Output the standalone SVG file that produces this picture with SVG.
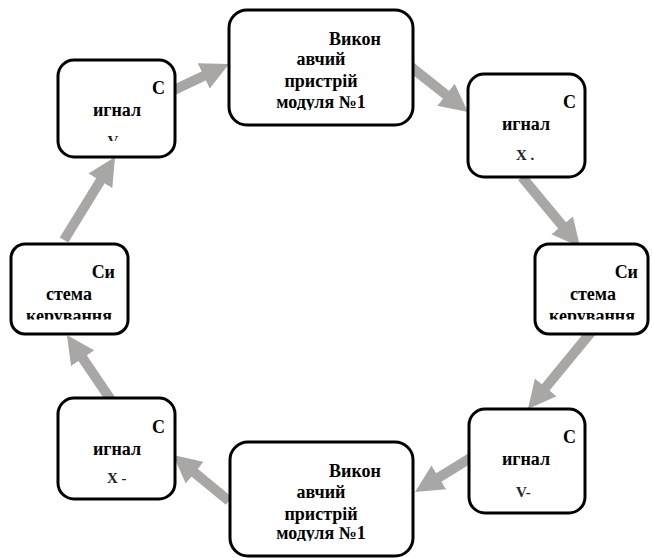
<svg xmlns="http://www.w3.org/2000/svg" width="653" height="558" viewBox="0 0 653 558">
<style>
.box{fill:#fff;stroke:#000;stroke-width:3}
text{font-family:"Liberation Serif","Times New Roman",serif;font-weight:bold}
.t{font-size:18px;fill:#000}
.s{font-size:15px;fill:#222}
.m{text-anchor:middle}
.e{text-anchor:end}
.arr{stroke:#a9a6a6;stroke-width:10;fill:none;marker-end:url(#head)}
</style>
<defs>
<marker id="head" markerUnits="userSpaceOnUse" markerWidth="28" markerHeight="28" viewBox="0 0 28 28" refX="1" refY="14" orient="auto">
<path d="M0,0 L28,14 L0,28 Z" fill="#a9a6a6"/>
</marker>
<clipPath id="c1"><rect x="0" y="0" width="653" height="141"/></clipPath>
<clipPath id="c2"><rect x="0" y="0" width="653" height="110"/></clipPath>
<clipPath id="c3"><rect x="0" y="0" width="653" height="319.5"/></clipPath>
<clipPath id="c4"><rect x="0" y="0" width="653" height="541"/></clipPath>
</defs>
<g id="connectors">
<line class="arr" x1="174" y1="90" x2="204.6" y2="75.5"/>
<line class="arr" x1="411" y1="67" x2="446.8" y2="95.3"/>
<line class="arr" x1="522" y1="177" x2="562.8" y2="226.2"/>
<line class="arr" x1="592" y1="331" x2="545.1" y2="388.1"/>
<line class="arr" x1="472" y1="457" x2="438" y2="477.9"/>
<line class="arr" x1="229" y1="501" x2="193.9" y2="472.1"/>
<line class="arr" x1="111" y1="400" x2="82.1" y2="357.4"/>
<line class="arr" x1="64" y1="240" x2="100.9" y2="180"/>
</g>
<g id="signal-v-top">
<rect class="box" x="58" y="60" width="117" height="97" rx="16"/>
<text class="t e" x="165" y="94">С</text>
<text class="t m" x="117" y="116">игнал</text>
<text class="s m" x="113" y="146" clip-path="url(#c1)">V</text>
</g>
<g id="actuator-top">
<rect class="box" x="229" y="10" width="184" height="115" rx="18"/>
<text class="t e" x="381" y="45">Викон</text>
<text class="t m" x="321" y="65">авчий</text>
<text class="t m" x="321" y="87">пристрій</text>
<text class="t m" x="321" y="108" clip-path="url(#c2)">модуля №1</text>
</g>
<g id="signal-x-top">
<rect class="box" x="468" y="74" width="117" height="103" rx="16"/>
<text class="t e" x="576" y="108">С</text>
<text class="t m" x="526" y="130">игнал</text>
<text class="s" x="516" y="160">X .</text>
</g>
<g id="control-left">
<rect class="box" x="11" y="244" width="117" height="90" rx="14"/>
<text class="t e" x="115" y="278">Си</text>
<text class="t m" x="69" y="300">стема</text>
<text class="t m" x="69" y="322" clip-path="url(#c3)">керування</text>
</g>
<g id="control-right">
<rect class="box" x="535" y="244" width="113" height="90" rx="14"/>
<text class="t e" x="638" y="278">Си</text>
<text class="t m" x="593" y="300">стема</text>
<text class="t m" x="592" y="322" clip-path="url(#c3)">керування</text>
</g>
<g id="signal-x-bottom">
<rect class="box" x="58" y="398" width="117" height="101" rx="16"/>
<text class="t e" x="165" y="433">С</text>
<text class="t m" x="117" y="455">игнал</text>
<text class="s" x="107" y="483">X -</text>
</g>
<g id="actuator-bottom">
<rect class="box" x="230" y="442" width="183" height="114" rx="18"/>
<text class="t e" x="381" y="477">Викон</text>
<text class="t m" x="321" y="498">авчий</text>
<text class="t m" x="321" y="520">пристрій</text>
<text class="t m" x="321" y="539" clip-path="url(#c4)">модуля №1</text>
</g>
<g id="signal-v-bottom">
<rect class="box" x="469" y="409" width="116" height="104" rx="16"/>
<text class="t e" x="576" y="443">С</text>
<text class="t m" x="526" y="465">игнал</text>
<text class="s" x="516" y="497">V-</text>
</g>
</svg>
